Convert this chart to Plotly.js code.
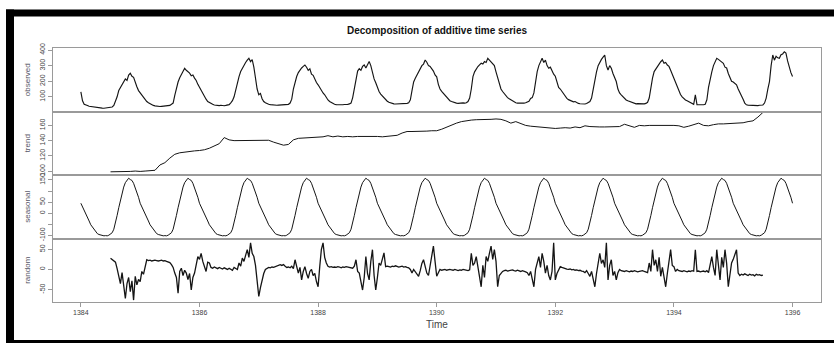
<!DOCTYPE html>
<html><head><meta charset="utf-8">
<script src="https://cdn.plot.ly/plotly-3.0.1.min.js"></script>
<style>html,body{margin:0;padding:0;background:#fff}#chart{width:834px;height:343px}</style>
</head><body><div id="chart"></div>
<script>
// ---------- DATA ----------
const chartTitle = "Decomposition of additive time series";
const xTitle = "Time";
const panelNames = ["observed", "trend", "seasonal", "random"];

const observedStart = 1384;
const observedFreq = 36;
const observed = [
  // 1384
  132,75,52,46,44,40,38,36,35,33, 31,30,29,28,27,29,30,32,33,35, 45,70,100,140,160,175,195,215,205,240, 251,232,225,190,165,140,
  // 1385
  125,112,98,82,70,62,55,49,45,42, 40,40,38,39,40,41,40,42,45,52, 60,110,160,195,222,240,262,283,270,262, 252,235,240,220,205,180,
  // 1386
  160,140,118,105,85,70,62,56,52,48, 46,45,44,46,44,43,45,47,50,62, 75,100,150,190,230,262,285,300,320,335, 347,325,338,290,210,150,
  // 1387
  113,122,88,70,62,56,52,50,48,47, 48,46,47,48,46,47,49,50,52,60, 85,150,198,230,255,272,285,295,304,290, 270,280,245,238,210,192,
  // 1388
  177,158,140,125,113,95,80,70,62,55, 52,50,49,48,50,49,51,50,52,55, 60,95,160,200,265,280,270,295,304,285, 310,326,300,255,215,190,
  // 1389
  160,134,118,105,95,85,72,65,60,57, 55,54,55,53,55,56,54,57,58,62, 81,140,195,219,240,262,283,300,310,336, 322,300,295,283,265,240,
  // 1390
  228,180,150,135,122,113,100,85,75,70, 65,62,60,58,60,59,61,60,62,70, 92,150,230,260,280,294,305,315,310,326, 320,347,335,325,315,300,
  // 1391
  260,219,180,150,134,120,105,95,88,81, 72,66,62,60,59,60,58,60,62,66, 72,90,95,125,200,262,300,325,347,320, 335,300,283,290,262,245,
  // 1392
  232,190,160,150,135,113,100,90,82,76, 72,68,70,62,58,56,55,56,54,57, 62,70,92,150,219,260,300,326,340,355, 368,300,272,300,283,250,
  // 1393
  220,198,150,125,113,100,90,80,75,70, 65,60,57,55,56,55,54,56,55,58, 65,92,170,220,262,280,300,310,325,336, 315,320,304,295,270,245,
  // 1394
  219,185,160,134,115,100,88,80,75,70, 62,56,52,113,50,49,48,50,49,52, 81,160,219,260,300,320,347,340,330,325, 315,290,285,250,225,200,
  // 1395
  195,185,177,150,130,113,85,60,49,47, 46,45,44,46,45,44,46,45,48,60, 92,150,198,300,368,335,360,350,347,370, 375,389,380,330,283,255,
  // 1396.0
  230
];

const trendStart = 1384.5;
const trendFreq = 12;
const trend = [
  99,99,99.5,99.5,99.5,100,
  99.5,100,100.5,101,108,111,117,122,124,125,126,126.5,
  127,128,130,133,136,144,141,140,140,140.5,140,140.5,
  140.5,140,140.5,138,136,134,135,141,143,143.5,144,144.5,
  145,145,146.5,145,146,145,145.5,145,145.5,145.5,146,145.5,
  145.5,145,145.5,146,147,150,152,152,152,152.5,152.5,153,
  153,155,158,161,163,165,166.5,167,167.5,167.5,168,168,
  168.5,168,166,163,165,162,160,159,158.5,157.5,157,156.5,
  156,156.5,157,156.5,158,157,159.5,158.5,158,158,158,158,
  158,158.5,161.5,159,157.5,160,159.5,160,160,160,160.5,160.5,
  160,159.5,157.5,159,160.5,163,160,159.5,161,162,162,162.5,
  162.5,163,163.5,165,166,171,177
];

// one year of the seasonal figure (36 steps per year), repeated every year by the decomposition
const seasonalStart = 1384;
const seasonalFreq = 36;
const seasonalYears = 12;
const seasonalFigure = [45,30,15,2,-15,-35,-52,-62,-75,-85,-92,-96,-99,-101,-102,-101,-102,-99,-95,-88,-72,-45,-10,25,60,92,118,138,150,158,152,148,135,115,98,72];

const randomStart = 1384.5;
const randomFreq = 36;
const random = [
  // 1384.5 -
  28,24,21,18,2,-18,-35,-8,-45,-72,-35,-20,-55,-28,-76,-17,-38,-25,
  // 1385
  -30,-5,-12,5,24,22,23,21,22,23, 22,21,22,23,21,22,20,19,17,12, 5,-9,-20,-59,-5,3,-15,-2,-9,-25, -10,-51,-20,-9,10,32,
  // 1386
  25,40,20,8,-5,18,16,5,3,6, 4,2,5,3,1,4,2,0,3,1, -2,5,2,0,16,8,28,20,35,49, 30,66,40,32,10,-34,
  // 1387
  -67,-45,-26,-10,0,3,5,4,6,5, 7,8,10,12,10,12,8,5,6,4, 8,2,24,10,-9,5,-26,-5,7,-10, -22,-5,0,-15,-10,-30,
  // 1388
  -43,7,50,66,30,16,8,6,7,5, 6,5,7,6,4,6,5,7,6,5, 4,3,8,24,-5,-9,-30,-51,-20,32, -10,-26,20,49,-15,-51,
  // 1389
  -20,16,10,25,41,7,8,7,6,8, 7,9,8,6,7,8,6,7,5,4, 0,-9,0,-5,-12,-17,-3,15,24,5, -9,-15,10,30,58,20,
  // 1390
  -17,-8,0,-2,-1,0,-2,-1,0,-1, -2,0,-1,-3,-1,-2,0,-1,-2,-3, -1,40,10,16,32,5,-15,-43,10,-20, 32,20,40,58,25,49,
  // 1391
  20,-43,-15,-9,-5,-3,-2,-4,-3,-2, -1,-3,-4,-2,-3,-5,-3,-4,-6,-8, -15,-5,-25,-43,0,15,32,5,40,20, -9,10,-15,-26,-5,66,
  // 1392
  -26,-10,0,7,5,3,2,1,0,1, -1,0,-2,-1,-3,-2,-4,-5,-8,-3, -10,-17,-5,-25,-43,-10,20,40,15,24, 5,66,-26,10,24,-15,
  // 1393
  -5,-26,-8,0,-3,-4,-5,-3,-4,-6, -4,-5,-3,-4,-6,-5,-4,-3,-5,-6, -8,16,-5,49,10,24,-5,30,-17,5, -25,-43,-10,20,49,10,
  // 1394
  7,-5,0,-3,-4,-5,-3,-4,-6,-4, -5,-3,-4,49,-5,-4,-6,-5,-4,-6, -3,-8,15,32,5,-15,49,10,-26,30, 5,49,15,-43,-10,16,
  // 1395 - 1395.5
  25,40,49,-9,-15,-12,-14,-11,-13,-15, -12,-14,-13,-16,-12,-14,-13,-15,-14
];

const xTickVals = [1384, 1386, 1388, 1390, 1392, 1394, 1396];
const xTickText = ["1384", "1386", "1388", "1390", "1392", "1394", "1396"];
const observedTicks = [100, 200, 300, 400];
const observedTickText = ["100", "200", "300", "400"];
const trendTicks = [100, 120, 140, 160];
const trendTickText = ["100", "120", "140", "160"];
const seasonalTicks = [-100, -50, 0, 50, 100, 150];
const seasonalTickText = ["-100", "", "0", "50", "", "150"];
const randomTicks = [-50, 0, 50];
const randomTickText = ["-50", "0", "50"];

// ---------- BUILD ----------
function timeAxis(start, freq, n) {
  const t = [];
  for (let i = 0; i < n; i++) t.push(start + i / freq);
  return t;
}
const seasonal = [];
for (let y = 0; y < seasonalYears; y++) seasonalFigure.forEach(v => seasonal.push(v));
seasonal.push(seasonalFigure[0]);

const W = 834, H = 343;
const M = {l: 53, r: 13, t: 48, b: 41};
const PW = W - M.l - M.r, PH = H - M.t - M.b;
const px2x = px => (px - M.l) / PW;
const py2y = py => (H - M.b - py) / PH;

const FONT = "Liberation Sans, Arial, Helvetica, sans-serif";
const frame = "#9a9a9a";
const xRange = [1383.53, 1396.48];

function trace(x, y, xa, ya, w) {
  return {x, y, xaxis: xa, yaxis: ya, type: "scatter", mode: "lines",
          line: {color: "#151515", width: w}, hoverinfo: "skip", showlegend: false};
}
const data = [
  trace(timeAxis(observedStart, observedFreq, observed.length), observed, "x4", "y4", 1.15),
  trace(timeAxis(trendStart, trendFreq, trend.length), trend, "x3", "y3", 1),
  trace(timeAxis(seasonalStart, seasonalFreq, seasonal.length), seasonal, "x2", "y2", 1),
  trace(timeAxis(randomStart, randomFreq, random.length), random, "x", "y", 1.3)
];

function yax(domain, range, vals, text, title, anchor) {
  return {
    domain, range, anchor, tickmode: "array", tickvals: vals, ticktext: text, tickangle: -90,
    ticks: "outside", ticklen: 4, tickcolor: frame, tickwidth: 1,
    showline: true, mirror: true, linecolor: frame, linewidth: 1,
    showgrid: false, zeroline: false,
    tickfont: {family: FONT, size: 7, color: "#444"},
    title: {text: title, font: {family: FONT, size: 8, color: "#556"}, standoff: 7},
    fixedrange: true
  };
}
function xax(anchor, bottom) {
  const a = {
    domain: [0, 1], range: xRange, anchor,
    showline: true, mirror: true, linecolor: frame, linewidth: 1,
    showgrid: false, zeroline: false, fixedrange: true
  };
  if (bottom) {
    Object.assign(a, {
      tickmode: "array", tickvals: xTickVals, ticktext: xTickText,
      ticks: "outside", ticklen: 4, tickcolor: frame,
      tickfont: {family: FONT, size: 7, color: "#444"},
      title: {text: xTitle, font: {family: FONT, size: 10, color: "#444"}, standoff: 5}
    });
  } else {
    Object.assign(a, {showticklabels: false, ticks: ""});
  }
  return a;
}

function bar(x0, x1, y0, y1) {
  return {type: "rect", xref: "paper", yref: "paper", x0: px2x(x0), x1: px2x(x1), y0: py2y(y1), y1: py2y(y0),
          fillcolor: "#000", line: {width: 0}, layer: "above"};
}

const layout = {
  width: W, height: H, margin: M,
  paper_bgcolor: "#fff", plot_bgcolor: "#fff",
  showlegend: false,
  title: {text: "<b>" + chartTitle + "</b>", x: 0.5, xref: "paper", xanchor: "center",
          y: 1 - 30 / H, yref: "container", yanchor: "middle",
          font: {family: FONT, size: 10, color: "#111"}},
  xaxis: xax("y", true),
  xaxis2: xax("y2", false),
  xaxis3: xax("y3", false),
  xaxis4: xax("y4", false),
  yaxis: yax([0, 0.25], [-80.75, 76.75], randomTicks, randomTickText, panelNames[3], "x"),
  yaxis2: yax([0.25, 0.5], [-114, 172.5], seasonalTicks, seasonalTickText, panelNames[2], "x2"),
  yaxis3: yax([0.5, 0.75], [94.8, 178.3], trendTicks, trendTickText, panelNames[1], "x3"),
  yaxis4: yax([0.75, 1], [6, 413], observedTicks, observedTickText, panelNames[0], "x4"),
  shapes: [
    bar(6, 834, 9.5, 16.5),
    bar(6, 14, 9.5, 343),
    bar(6, 834, 340, 343)
  ]
};

Plotly.newPlot("chart", data, layout, {displayModeBar: false, staticPlot: true});
</script>
</body></html>
